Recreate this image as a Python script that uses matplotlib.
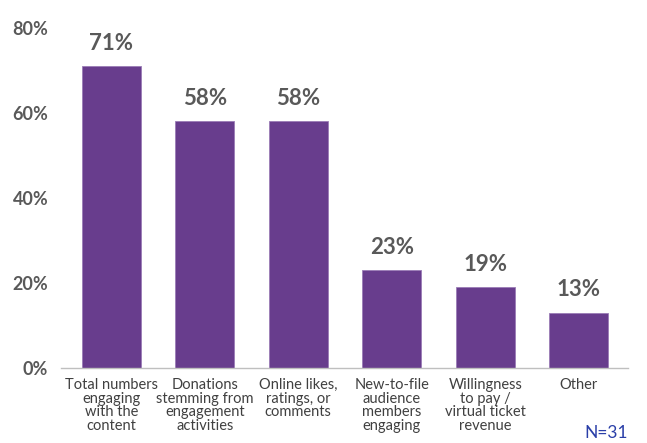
import matplotlib.pyplot as plt
import numpy as np

categories = [
    "Total numbers\nengaging\nwith the\ncontent",
    "Donations\nstemming from\nengagement\nactivities",
    "Online likes,\nratings, or\ncomments",
    "New-to-file\naudience\nmembers\nengaging",
    "Willingness\nto pay /\nvirtual ticket\nrevenue",
    "Other",
]
values = [71, 58, 58, 23, 19, 13]
yticks = [0, 20, 40, 60, 80]
sample_note = "N=31"

bar_color = "#683d8d"
text_gray = "#595959"

fig = plt.figure(figsize=(6.47, 4.43), dpi=100)
ax = fig.add_axes([0.094, 0.169, 0.877, 0.768])

x = np.arange(len(values))
ax.bar(x, values, width=0.63, color=bar_color, edgecolor="#9a7cb6", linewidth=0.6)

for xi, v in zip(x, values):
    ax.annotate(f"{v}%", (xi, v), xytext=(0, 9), textcoords="offset points",
                ha="center", va="bottom", fontsize=16, fontweight="bold",
                color=text_gray, family="Lato")

ax.set_xlim(-0.54, 5.53)
ax.set_ylim(0, 80)
ax.set_yticks(yticks)
ax.set_yticklabels([f"{t}%" for t in yticks], fontsize=13, fontweight="bold",
                   color=text_gray, family="Lato")
ax.set_xticks(x)
ax.set_xticklabels(categories, fontsize=10.5, color="#404040", family="Lato",
                   linespacing=0.98, va="top")
ax.tick_params(axis="y", length=0, pad=9)
ax.tick_params(axis="x", length=0, pad=7)

for s in ["top", "right", "left"]:
    ax.spines[s].set_visible(False)
ax.spines["bottom"].set_color("#bfbfbf")
ax.spines["bottom"].set_linewidth(1)

fig.text(0.903, 0.022, sample_note, color="#2a3fa8", fontsize=12.5,
         family="Lato", va="center", ha="left")

fig.savefig("out.png", dpi=100)
